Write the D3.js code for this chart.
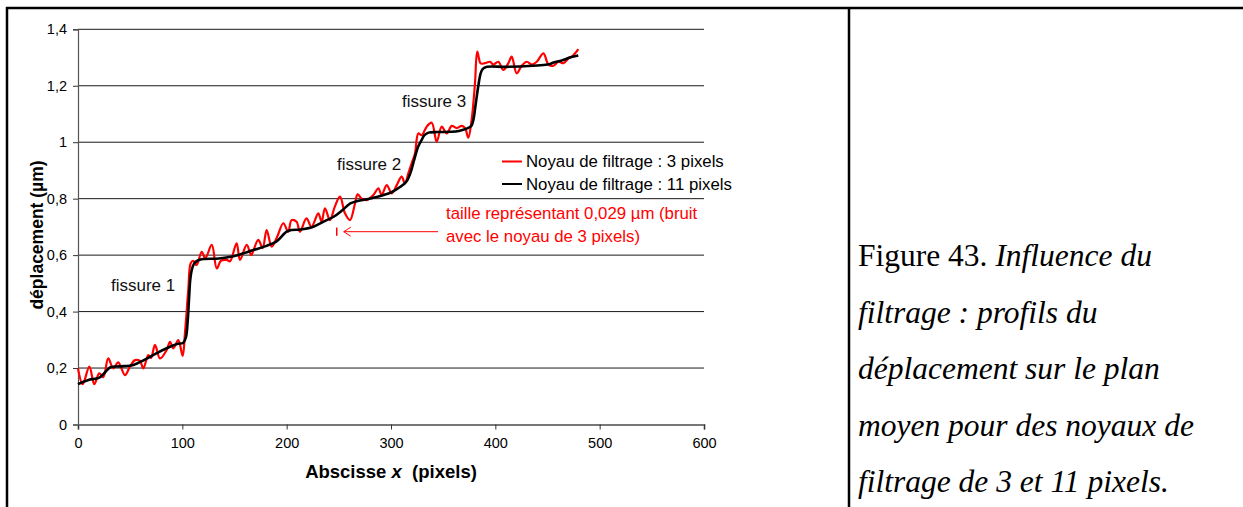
<!DOCTYPE html>
<html>
<head>
<meta charset="utf-8">
<script src="https://cdn.jsdelivr.net/npm/d3@7"></script>
<style>
  html, body { margin: 0; padding: 0; background: #fff; }
  svg { display: block; }
</style>
</head>
<body>
<svg id="chart" width="1243" height="507"></svg>
<script>
// ---------------- data ----------------
const xTicks = [0, 100, 200, 300, 400, 500, 600];
const yTicks = [0, 0.2, 0.4, 0.6, 0.8, 1.0, 1.2, 1.4];
const yTickLabels = ["0", "0,2", "0,4", "0,6", "0,8", "1", "1,2", "1,4"];
const seriesNames = ["Noyau de filtrage : 3 pixels", "Noyau de filtrage : 11 pixels"];
const seriesColors = ["#ff0000", "#000000"];

// noyau 3 pixels (red)
const redX = [0, 4.5, 10.9, 15.6, 20.4, 24.2, 29, 33.8, 38.6, 45, 49.8, 54.6, 59.4, 62.6, 67.4, 70, 73.8, 78.6, 85, 88.2, 91.4, 96.1, 100.3, 102.5, 105.7, 108, 110.5, 113.7, 118.6, 122, 128.2, 133, 137, 142.5, 145.7, 152, 155.3, 161.7, 166, 168, 172.8, 177, 180.8, 185.7, 190.9, 196.8, 201.5, 204.7, 209.5, 212.7, 219, 223.8, 230.3, 233.5, 236.7, 241.5, 246, 251.1, 255.9, 260.7, 265.5, 268, 272, 276.7, 283.1, 287.9, 291, 295.9, 300.7, 305.5, 310.2, 313.4, 316.6, 319.8, 323, 326.2, 329.4, 334.2, 339, 343.8, 348.6, 353.4, 358.2, 363, 367.8, 371, 374.1, 377.3, 380.5, 382.7, 386, 390, 394.9, 398.1, 402.9, 407.7, 412.5, 415.7, 420.5, 425.3, 430.1, 434.9, 439.7, 446.1, 450.9, 455.7, 460.5, 465.3, 470.1, 473.3, 476.5, 479.5];
const redY = [0.199, 0.143, 0.205, 0.143, 0.181, 0.168, 0.234, 0.199, 0.22, 0.175, 0.205, 0.228, 0.225, 0.199, 0.246, 0.236, 0.282, 0.234, 0.264, 0.293, 0.27, 0.299, 0.243, 0.323, 0.476, 0.571, 0.58, 0.565, 0.612, 0.589, 0.636, 0.553, 0.58, 0.583, 0.578, 0.642, 0.583, 0.636, 0.6, 0.615, 0.654, 0.625, 0.689, 0.63, 0.665, 0.713, 0.683, 0.724, 0.718, 0.683, 0.73, 0.70, 0.748, 0.718, 0.766, 0.724, 0.77, 0.807, 0.748, 0.724, 0.783, 0.815, 0.80, 0.795, 0.813, 0.837, 0.813, 0.848, 0.819, 0.848, 0.878, 0.854, 0.89, 0.925, 0.96, 1.031, 1.025, 1.055, 1.069, 1.002, 1.055, 1.031, 1.058, 1.05, 1.058, 1.05, 1.016, 1.079, 1.209, 1.321, 1.279, 1.28, 1.285, 1.275, 1.285, 1.256, 1.28, 1.303, 1.244, 1.271, 1.285, 1.275, 1.285, 1.315, 1.275, 1.271, 1.285, 1.28, 1.297, 1.303, 1.315, 1.33];

// noyau 11 pixels (black)
const blackX = [0, 10, 20, 26, 31, 40, 53, 64, 75, 85, 95, 101, 103.5, 105, 106.5, 107.5, 109, 111, 114, 120, 135, 149, 160, 168, 180, 190, 200, 205, 213, 225, 235, 245, 253, 261, 268, 277, 285, 293, 300, 309, 315, 319, 322, 326, 329.4, 332, 336, 345, 357, 365, 373, 377, 379, 381, 383.7, 386, 388, 392, 410, 436, 450, 456, 465, 472, 479.5];
const blackY = [0.143, 0.158, 0.165, 0.185, 0.203, 0.206, 0.211, 0.23, 0.252, 0.27, 0.285, 0.29, 0.31, 0.36, 0.45, 0.51, 0.547, 0.568, 0.58, 0.586, 0.588, 0.596, 0.608, 0.618, 0.632, 0.648, 0.683, 0.689, 0.691, 0.70, 0.718, 0.736, 0.758, 0.783, 0.792, 0.798, 0.805, 0.813, 0.822, 0.842, 0.862, 0.895, 0.935, 0.984, 1.008, 1.025, 1.034, 1.036, 1.037, 1.04, 1.049, 1.058, 1.08, 1.13, 1.2, 1.245, 1.26, 1.267, 1.267, 1.271, 1.275, 1.282, 1.291, 1.301, 1.307];

// annotations
const fissureLabels = ["fissure 1", "fissure 2", "fissure 3"];
const noiseBarX = 248;          // abscissa of the noise-size marker
const noiseBarCenter = 0.683;   // centre of the marker
const noiseBarSize = 0.029;     // µm
const noiseText = ["taille représentant 0,029 µm (bruit", "avec le noyau de 3 pixels)"];
const captionLines = [
  [["Figure 43. ", false], ["Influence du", true]],
  [["filtrage : profils du", true]],
  [["déplacement sur le plan", true]],
  [["moyen pour des noyaux de", true]],
  [["filtrage de 3 et 11 pixels.", true]]
];

// ---------------- drawing ----------------
const svg = d3.select("#chart");
const SANS = "'Liberation Sans', Arial, Helvetica, sans-serif";
const SERIF = "'Liberation Serif', 'Times New Roman', serif";

const plot = { left: 78, right: 704, top: 29.3, bottom: 424.5 };
const x = d3.scaleLinear().domain([0, 600]).range([plot.left, plot.right]);
const y = d3.scaleLinear().domain([0, 1.4]).range([plot.bottom, plot.top]);

// frame (table cell borders)
svg.append("line").attr("x1", 6).attr("x2", 1243).attr("y1", 8).attr("y2", 8)
  .attr("stroke", "#000").attr("stroke-width", 2.5);
svg.append("line").attr("x1", 7).attr("x2", 7).attr("y1", 7).attr("y2", 507)
  .attr("stroke", "#000").attr("stroke-width", 2.5);
svg.append("line").attr("x1", 849).attr("x2", 849).attr("y1", 7).attr("y2", 507)
  .attr("stroke", "#000").attr("stroke-width", 2.5);

// gridlines
svg.append("g").selectAll("line").data(yTicks.filter(d => d > 0)).join("line")
  .attr("x1", plot.left).attr("x2", plot.right)
  .attr("y1", d => y(d)).attr("y2", d => y(d))
  .attr("stroke", "#1a1a1a").attr("stroke-width", 1);

// y axis
const yAxis = d3.axisLeft(y).tickValues(yTicks).tickSize(5).tickPadding(6)
  .tickFormat((d, i) => yTickLabels[i]);
const gy = svg.append("g").attr("transform", `translate(${plot.left},0)`).call(yAxis);
gy.select(".domain").attr("stroke", "#555").attr("stroke-width", 1.2);
gy.selectAll(".tick line").attr("stroke", "#333");
gy.selectAll(".tick text").attr("font-family", SANS).attr("font-size", 14.5).attr("fill", "#000");

// x axis
const xAxis = d3.axisBottom(x).tickValues(xTicks).tickSize(5).tickPadding(8);
const gx = svg.append("g").attr("transform", `translate(0,${plot.bottom})`).call(xAxis);
gx.select(".domain").attr("stroke", "#777").attr("stroke-width", 1.8);
gx.selectAll(".tick line").attr("stroke", "#333");
gx.selectAll(".tick text").attr("font-family", SANS).attr("font-size", 14.5).attr("fill", "#000");

// axis titles
const xt = svg.append("text").attr("x", (plot.left + plot.right) / 2).attr("y", 478)
  .attr("text-anchor", "middle").attr("font-family", SANS).attr("font-size", 18.5)
  .attr("font-weight", "bold").attr("fill", "#000");
xt.append("tspan").text("Abscisse ");
xt.append("tspan").attr("font-style", "italic").text("x");
xt.append("tspan").text("  (pixels)").attr("xml:space", "preserve");

svg.append("text").attr("transform", "translate(43,235) rotate(-90)")
  .attr("text-anchor", "middle").attr("font-family", SANS).attr("font-size", 17.5)
  .attr("font-weight", "bold").attr("fill", "#000").text("déplacement (µm)");

// series
const line = d3.line().x(d => x(d[0])).y(d => y(d[1])).curve(d3.curveCatmullRom.alpha(0.5));
const redData = redX.map((v, i) => [v, redY[i]]);
const blackData = blackX.map((v, i) => [v, blackY[i]]);
svg.append("path").datum(redData).attr("d", line).attr("fill", "none")
  .attr("stroke", seriesColors[0]).attr("stroke-width", 2.2).attr("stroke-linejoin", "round");
svg.append("path").datum(blackData).attr("d", line).attr("fill", "none")
  .attr("stroke", seriesColors[1]).attr("stroke-width", 2.6).attr("stroke-linejoin", "round");

// fissure labels
const fissurePos = [[111, 291], [337, 170], [402, 107]];
fissureLabels.forEach((t, i) => {
  svg.append("text").attr("x", fissurePos[i][0]).attr("y", fissurePos[i][1])
    .attr("font-family", SANS).attr("font-size", 17).attr("fill", "#111").text(t);
});

// legend
seriesNames.forEach((n, i) => {
  const ly = 161.5 + i * 22.5;
  svg.append("line").attr("x1", 502).attr("x2", 522).attr("y1", ly).attr("y2", ly)
    .attr("stroke", seriesColors[i]).attr("stroke-width", 2);
  svg.append("text").attr("x", 526).attr("y", ly + 5.5)
    .attr("font-family", SANS).attr("font-size", 16.8).attr("fill", "#000").text(n);
});

// noise marker + arrow
svg.append("line")
  .attr("x1", x(noiseBarX)).attr("x2", x(noiseBarX))
  .attr("y1", y(noiseBarCenter - noiseBarSize / 2)).attr("y2", y(noiseBarCenter + noiseBarSize / 2))
  .attr("stroke", "#ff0000").attr("stroke-width", 1.5);
const ay = y(noiseBarCenter);
const ax0 = x(noiseBarX) + 7, ax1 = 438;
svg.append("line").attr("x1", ax0).attr("x2", ax1).attr("y1", ay).attr("y2", ay)
  .attr("stroke", "#ff0000").attr("stroke-width", 1);
svg.append("path").attr("d", `M${ax0 + 7},${ay - 4.5}L${ax0},${ay}L${ax0 + 7},${ay + 4.5}`)
  .attr("fill", "none").attr("stroke", "#ff0000").attr("stroke-width", 1);
noiseText.forEach((t, i) => {
  svg.append("text").attr("x", 446).attr("y", 219 + i * 22.5)
    .attr("font-family", SANS).attr("font-size", 16.8).attr("fill", "#ff0000").text(t);
});

// caption
captionLines.forEach((parts, i) => {
  const t = svg.append("text").attr("x", 858).attr("y", 266 + i * 56.5)
    .attr("font-family", SERIF).attr("font-size", 31.5).attr("fill", "#000");
  parts.forEach(p => {
    t.append("tspan").attr("font-style", p[1] ? "italic" : "normal").text(p[0]);
  });
});
</script>
</body>
</html>
